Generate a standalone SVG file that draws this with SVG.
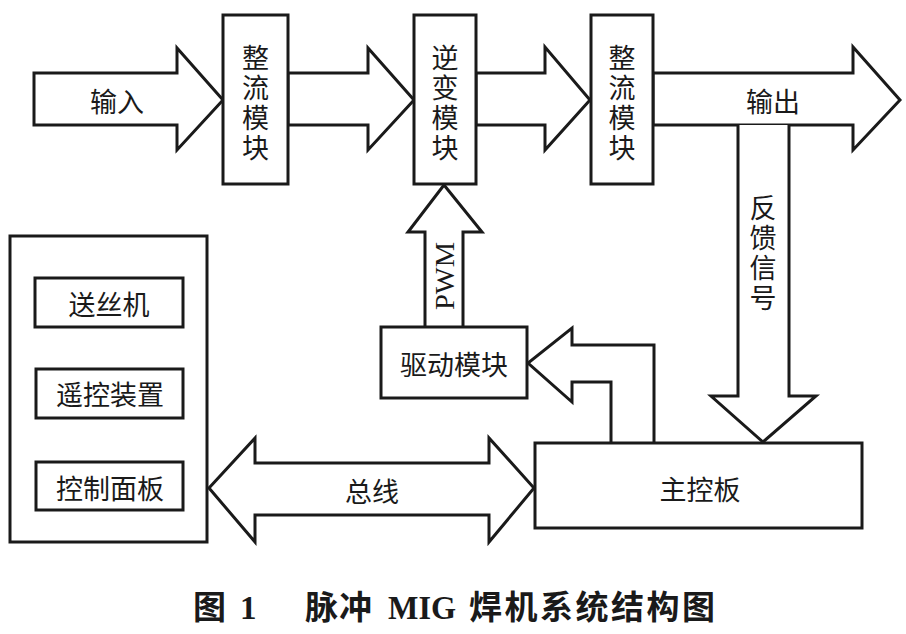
<svg xmlns="http://www.w3.org/2000/svg" width="906" height="634" viewBox="0 0 906 634">
<style>
.s{fill:#fff;stroke:#1a1a1a;stroke-width:3;stroke-linejoin:miter}
.t{font-family:"Noto Sans CJK SC",sans-serif;font-size:27px;fill:#1a1a1a;text-anchor:middle;dominant-baseline:central}
.v{font-family:"Noto Sans CJK SC",sans-serif;font-size:27px;fill:#1a1a1a;text-anchor:middle;writing-mode:vertical-rl;letter-spacing:3px}
.cap{font-family:"Liberation Serif","Noto Sans CJK SC",serif;font-size:33px;font-weight:bold;fill:#1a1a1a;dominant-baseline:central}
</style>
<rect width="906" height="634" fill="#fff"/>
<g id="connectors">
<polygon class="s" points="34,73 177,73 177,48 223,100 177,150 177,125 34,125"/>
<polygon class="s" points="288,73 368,73 368,48 414,100 368,150 368,125 288,125"/>
<polygon class="s" points="476,73 545,73 545,47 590,100 545,150 545,125 476,125"/>
<polygon class="s" points="653,73 853,73 853,47 900,100 853,150 853,125 653,125"/>
<polyline class="s" points="738,125 738,396 711,396 763,442 816,396 789,396 789,125"/>
<polyline class="s" points="425,327 425,232 408,232 444,185 482,232 463,232 463,327"/>
<polyline class="s" points="654,443 654,345 572,345 572,328 528,363 572,402 572,382 611,382 611,443"/>
<polygon class="s" points="209,488 255,438 255,463 489,463 489,438 534,488 489,542 489,515 255,515 255,542"/>
<text class="t" x="117" y="100">输入</text>
<text class="t" x="773" y="100">输出</text>
<text class="v" x="763" y="254">反馈信号</text>
<text x="444" y="276" transform="rotate(-90 444 276)" font-family="'Liberation Serif',serif" font-size="28" fill="#1a1a1a" text-anchor="middle" dominant-baseline="central" textLength="68" lengthAdjust="spacingAndGlyphs">PWM</text>
<text class="t" x="372" y="490">总线</text>
</g>
<g id="rect1">
<rect class="s" x="223" y="15" width="65" height="169"/>
<text class="v" x="255.5" y="104">整流模块</text>
</g>
<g id="inverter">
<rect class="s" x="414" y="15" width="62" height="169"/>
<text class="v" x="445" y="104">逆变模块</text>
</g>
<g id="rect2">
<rect class="s" x="591" y="15" width="62" height="169"/>
<text class="v" x="622" y="104">整流模块</text>
</g>
<g id="driver">
<rect class="s" x="381" y="327" width="146" height="71"/>
<text class="t" x="454" y="363">驱动模块</text>
</g>
<g id="mainboard">
<rect class="s" x="535" y="443" width="327" height="85"/>
<text class="t" x="700" y="488">主控板</text>
</g>
<g id="panel">
<rect class="s" x="10" y="236" width="197" height="306"/>
<rect class="s" x="35" y="278" width="148" height="49"/>
<text class="t" x="109" y="303">送丝机</text>
<rect class="s" x="36" y="369" width="147" height="49"/>
<text class="t" x="110" y="393">遥控装置</text>
<rect class="s" x="36" y="462" width="147" height="48"/>
<text class="t" x="110" y="487">控制面板</text>
</g>
<g id="caption">
<text class="cap" x="193" y="608">图</text>
<text class="cap" x="240" y="608">1</text>
<text class="cap" x="305" y="608" letter-spacing="1">脉冲</text>
<text class="cap" x="388" y="608" textLength="68" lengthAdjust="spacingAndGlyphs">MIG</text>
<text class="cap" x="469" y="608" letter-spacing="2.5">焊机系统结构图</text>
</g>
</svg>
